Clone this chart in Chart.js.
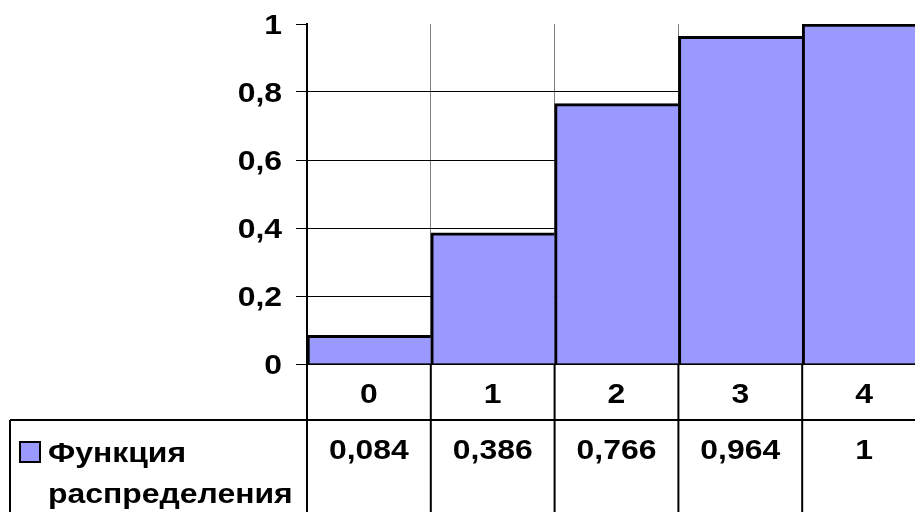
<!DOCTYPE html>
<html>
<head>
<meta charset="utf-8">
<script src="https://cdn.jsdelivr.net/npm/chart.js@4/dist/chart.umd.min.js"></script>
<style>
  html, body { margin: 0; padding: 0; background: #fff; overflow: hidden; }
  #wrap { width: 1050px; height: 512px; }
</style>
</head>
<body>
<div id="wrap"><canvas id="c" width="1050" height="512"></canvas></div>
<script>
// Distribution function values by outcome
const categories = ['0', '1', '2', '3', '4'];
const values = [0.084, 0.386, 0.766, 0.964, 1];
const yTicks = [0, 0.2, 0.4, 0.6, 0.8, 1];
const seriesName = ['Функция', 'распределения'];

const FILL = '#9999FF';
const FONT = 'bold 28px "Liberation Sans", Arial, sans-serif';
const SX = 1.14; // wide lettering

const fmt = v => String(Number(v.toFixed(3))).replace('.', ',');

function wideText(ctx, text, px, py, align) {
  ctx.save();
  ctx.translate(px, py);
  ctx.scale(SX, 1);
  ctx.textAlign = align;
  ctx.textBaseline = 'alphabetic';
  ctx.fillText(text, 0, 0);
  ctx.restore();
}

// Axis labels and the data table under the plot
const tablePlugin = {
  id: 'dataTable',
  afterDraw(chart) {
    const { ctx, chartArea, scales: { x, y } } = chart;
    const W = chart.width, H = chart.height;
    const b = chartArea.bottom;
    const colW = x.getPixelForValue(1) - x.getPixelForValue(0);
    const edges = categories.map((c, i) => x.getPixelForValue(i) - colW / 2);
    const rowLine = b + 56;

    ctx.save();
    ctx.fillStyle = '#000';
    ctx.font = FONT;

    // value axis labels
    y.ticks.forEach(t => {
      wideText(ctx, fmt(t.value), chartArea.left - 25, y.getPixelForValue(t.value) + 10, 'right');
    });

    // table grid
    ctx.strokeStyle = '#000';
    ctx.lineWidth = 2;
    ctx.beginPath();
    ctx.moveTo(10, rowLine); ctx.lineTo(W, rowLine);
    ctx.moveTo(10, rowLine); ctx.lineTo(10, H);
    edges.forEach(ex => { ctx.moveTo(ex, b); ctx.lineTo(ex, H); });
    ctx.stroke();

    // category row and value row
    categories.forEach((c, i) => {
      const cx = x.getPixelForValue(i);
      wideText(ctx, c, cx, b + 39, 'center');
      wideText(ctx, fmt(values[i]), cx, b + 95, 'center');
    });

    // series key
    ctx.fillStyle = FILL;
    ctx.fillRect(20, rowLine + 22, 20, 20);
    ctx.lineWidth = 2;
    ctx.strokeRect(20, rowLine + 22, 20, 20);
    ctx.fillStyle = '#000';
    wideText(ctx, seriesName[0], 48, rowLine + 42, 'left');
    wideText(ctx, seriesName[1], 48, rowLine + 83, 'left');
    ctx.restore();
  }
};

new Chart(document.getElementById('c'), {
  type: 'bar',
  data: {
    labels: categories,
    datasets: [{
      label: seriesName.join(' '),
      data: values,
      backgroundColor: FILL,
      borderColor: '#000',
      borderWidth: { top: 3, left: 3, right: 0, bottom: 0 },
      borderSkipped: false,
      barPercentage: 1,
      categoryPercentage: 1
    }]
  },
  options: {
    responsive: false,
    devicePixelRatio: 1,
    animation: false,
    layout: { padding: { top: 24, right: 124, bottom: 148, left: 0 } },
    plugins: { legend: { display: false }, tooltip: { enabled: false } },
    scales: {
      x: {
        ticks: { display: false },
        grid: { offset: true, color: '#808080', lineWidth: 1, drawTicks: false },
        border: { display: true, color: '#000', width: 2 },
        afterFit(s) { s.height = 0; }
      },
      y: {
        min: 0,
        max: 1,
        afterBuildTicks(s) { s.ticks = yTicks.map(v => ({ value: v })); },
        ticks: { display: false },
        grid: {
          color: c => (c.tick && c.tick.value === 1 ? 'rgba(0,0,0,0)' : '#000'),
          tickColor: '#000',
          lineWidth: 1,
          tickLength: 11
        },
        border: { display: true, color: '#000', width: 2 },
        afterFit(s) { s.width = 307; }
      }
    }
  },
  plugins: [tablePlugin]
});
</script>
</body>
</html>
